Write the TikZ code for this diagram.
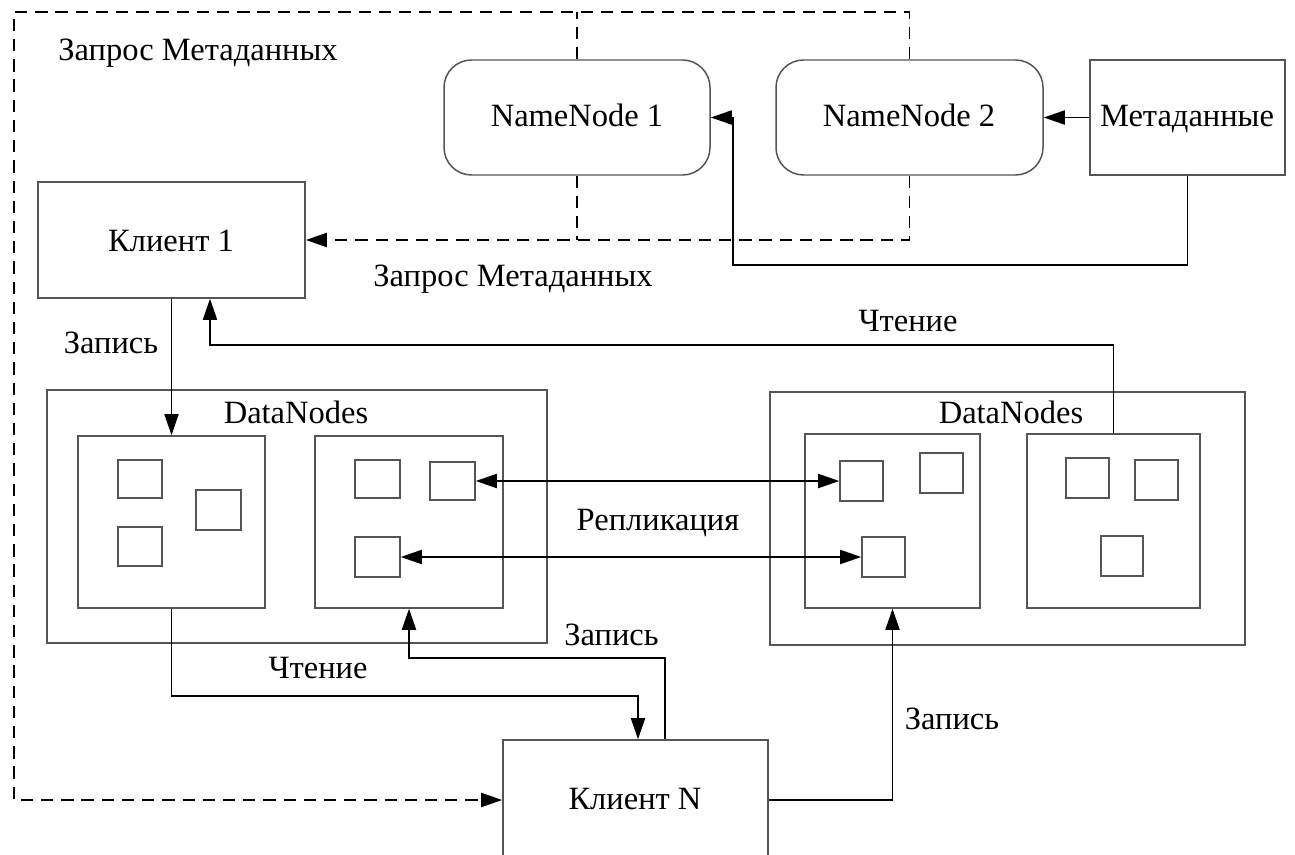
\documentclass[tikz,border=0pt]{standalone}
\usepackage{fontspec}
\setmainfont{Liberation Serif}
\usetikzlibrary{arrows.meta,fit}
\definecolor{boxgray}{HTML}{555555}
\begin{document}
\begin{tikzpicture}[x=0.02cm,y=-0.02cm,
  every node/.style={font=\fontsize{18.5}{22}\selectfont},
  box/.style={draw=boxgray, line width=0.85pt, inner sep=0pt, rectangle},
  rbox/.style={box, rounded corners=0.55cm},
  blk/.style={box},
  link/.style={draw=black, line width=1pt},
  req/.style={link, dash pattern=on 7pt off 4.5pt},
  >={Triangle[length=12pt,width=8pt]},
  lbl/.style={inner sep=0pt, anchor=base},
  lblw/.style={inner sep=0pt, anchor=base west}]

\path[use as bounding box] (0,0) rectangle (1295,855);
\clip (0,0) rectangle (1295,855);
\fill[white] (0,0) rectangle (1295,855);

% name nodes and metadata store
\node[rbox, fit={(444,60) (710,175)}] (nn1) {};
\node[rbox, fit={(776,60) (1043,175)}] (nn2) {};
\node[box, fit={(1090,60) (1285,175)}] (meta) {};
\node[lbl] (nn1text) at (577,127) {NameNode 1};
\node[lbl] (nn2text) at (909,127) {NameNode 2};
\node[lbl] (metatext) at (1187,127) {Метаданные};

% clients
\node[box, fit={(38,182) (305,298)}] (cl1) {};
\node[lbl] (cl1text) at (171,251) {Клиент 1};
\node[box, fit={(503,740) (768,860)}] (clN) {};
\node[lbl] (clNtext) at (635,809) {Клиент N};

% left group of data nodes
\node[box, fit={(47,390) (547,643)}] (grpL) {};
\node[lbl] (grpLtext) at (296,423) {DataNodes};
\node[box, fit={(78,436) (265,608)}] (dA) {};
\node[blk, fit={(118,460) (162,498)}] (a1) {};
\node[blk, fit={(118,527) (162,566)}] (a2) {};
\node[blk, fit={(196,490) (241,530)}] (a3) {};
\node[box, fit={(315,436) (503,608)}] (dB) {};
\node[blk, fit={(355,460) (400,498)}] (b1) {};
\node[blk, fit={(430,462) (475,500)}] (b2) {};
\node[blk, fit={(355,537) (400,577)}] (b3) {};

% right group of data nodes
\node[box, fit={(770,392) (1245,645)}] (grpR) {};
\node[lbl] (grpRtext) at (1011,423) {DataNodes};
\node[box, fit={(805,434) (980,608)}] (dC) {};
\node[blk, fit={(840,461) (883,501)}] (c1) {};
\node[blk, fit={(920,453) (963,493)}] (c2) {};
\node[blk, fit={(862,537) (905,577)}] (c3) {};
\node[box, fit={(1027,434) (1200,608)}] (dD) {};
\node[blk, fit={(1066,458) (1109,498)}] (d1) {};
\node[blk, fit={(1135,460) (1178,500)}] (d2) {};
\node[blk, fit={(1101,536) (1143,576)}] (d3) {};

% routing points
\coordinate (dtop) at (14,12);
\coordinate (mjog) at (733,265);
\coordinate (rdturn) at (210,345);
\coordinate (rbturn) at (638,696);
\coordinate (wnturn) at (665,658);

% metadata requests (dashed)
\draw[req] (nn1.north) -- (nn1.north |- dtop);
\draw[req,->] (nn2.north) |- (dtop) |- (clN.west);
\draw[req] (nn1.south) -- (nn1.south |- cl1.east);
\draw[req,->] (nn2.south) |- (cl1.east);

% metadata feed
\draw[link,->] (meta.west) -- (nn2.east);
\draw[link,->] (meta.south) |- (mjog) |- (nn1.east);

% read / write paths
\draw[link,->] (dD.north) |- (rdturn) -- (rdturn |- cl1.south);
\draw[link,->] (cl1.south) -- (dA.north);
\draw[link,<->] (b2.east) -- (c1.west);
\draw[link,<->] (b3.east) -- (c3.west);
\draw[link,->] (dA.south) |- (rbturn) -- (rbturn |- clN.north);
\draw[link,->] (wnturn |- clN.north) -- (wnturn) -| (dB.south);
\draw[link,->] (clN.east) -| (dC.south);

% labels
\node[lblw] (lq1) at (58,61) {Запрос Метаданных};
\node[lblw] (lq2) at (373,286) {Запрос Метаданных};
\node[lbl] (lr1) at (908,331) {Чтение};
\node[lbl] (lw1) at (111,353) {Запись};
\node[lbl] (lrep) at (658,530) {Репликация};
\node[lbl] (lr2) at (318,678) {Чтение};
\node[lblw] (lw2) at (564,645) {Запись};
\node[lbl] (lw3) at (952,729) {Запись};
\end{tikzpicture}
\end{document}
